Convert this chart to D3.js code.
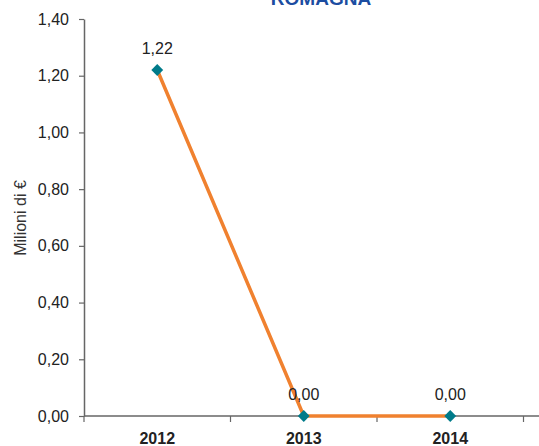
<!DOCTYPE html>
<html>
<head>
<meta charset="utf-8">
<script src="https://cdn.jsdelivr.net/npm/d3@7"></script>
<style>
  body { margin: 0; background: #fff; }
  svg { display: block; font-family: "Liberation Sans", Arial, sans-serif; }
</style>
</head>
<body>
<div id="chart"></div>
<script>
// data
var years = ["2012", "2013", "2014"];
var values = [1.22, 0.00, 0.00];
var yTicks = [0, 0.2, 0.4, 0.6, 0.8, 1.0, 1.2, 1.4];
var title = "ROMAGNA";
var yLabel = "Milioni di €";

var W = 539, H = 446;
var margin = {top: 19, right: -78, bottom: 30, left: 84};
var width = W - margin.left - margin.right,
    height = H - margin.top - margin.bottom;

var fmt = function(v) { return d3.format(".2f")(v).replace(".", ","); };

var svg = d3.select("#chart")
  .append("svg")
  .attr("width", W)
  .attr("height", H);

// title (cut off at top like the original)
svg.append("text")
  .attr("x", 321)
  .attr("y", 5)
  .attr("text-anchor", "middle")
  .style("font-size", "19px")
  .style("font-weight", "bold")
  .attr("fill", "#1c4da1")
  .text(title);

var g = svg.append("g")
  .attr("transform", "translate(" + margin.left + "," + margin.top + ")");

// x scale: bands 146.5px wide
var x = d3.scaleBand()
  .domain(years)
  .range([0, 146.5 * 3]);

var y = d3.scaleLinear()
  .domain([0, 1.4])
  .range([height, 0]);

// Y axis
var yAxis = g.append("g")
  .call(d3.axisLeft(y).tickValues(yTicks).tickFormat(fmt).tickSize(5).tickSizeOuter(0));
yAxis.select(".domain").attr("stroke", "#666").attr("stroke-width", 1.5);
yAxis.selectAll(".tick line").attr("stroke", "#666").attr("stroke-width", 1.2);
yAxis.selectAll(".tick text")
  .attr("x", -15)
  .attr("fill", "#222")
  .style("font-size", "16px");

// X axis line across to the right edge
g.append("line")
  .attr("x1", 0).attr("x2", W - margin.left)
  .attr("y1", y(0)).attr("y2", y(0))
  .attr("stroke", "#666").attr("stroke-width", 1.5);

// category boundary ticks
var bounds = years.map(function(d) { return x(d); }).concat([x(years[years.length - 1]) + x.bandwidth()]);
g.selectAll(".btick")
  .data(bounds)
  .enter()
  .append("line")
    .attr("x1", function(d) { return d; })
    .attr("x2", function(d) { return d; })
    .attr("y1", y(0))
    .attr("y2", y(0) + 6)
    .attr("stroke", "#666")
    .attr("stroke-width", 1.2);

// year labels
g.selectAll(".year")
  .data(years)
  .enter()
  .append("text")
    .attr("x", function(d) { return x(d) + x.bandwidth() / 2; })
    .attr("y", y(0) + 28)
    .attr("text-anchor", "middle")
    .style("font-size", "16px")
    .style("font-weight", "bold")
    .attr("fill", "#222")
    .text(function(d) { return d; });

// y label
svg.append("text")
  .attr("transform", "translate(26,218) rotate(-90)")
  .attr("text-anchor", "middle")
  .style("font-size", "16px")
  .attr("fill", "#333")
  .text(yLabel);

var pts = years.map(function(d, i) { return {year: d, value: values[i]}; });

// line
g.append("path")
  .datum(pts)
  .attr("fill", "none")
  .attr("stroke", "#f0812f")
  .attr("stroke-width", 3.5)
  .attr("d", d3.line()
    .x(function(d) { return x(d.year) + x.bandwidth() / 2; })
    .y(function(d) { return y(d.value); }));

// markers
g.selectAll(".mk")
  .data(pts)
  .enter()
  .append("path")
    .attr("d", d3.symbol().type(d3.symbolDiamond2).size(90))
    .attr("transform", function(d) {
      return "translate(" + (x(d.year) + x.bandwidth() / 2) + "," + y(d.value) + ")";
    })
    .attr("fill", "#007b8a");

// data labels
g.selectAll(".lbl")
  .data(pts)
  .enter()
  .append("text")
    .attr("x", function(d) { return x(d.year) + x.bandwidth() / 2; })
    .attr("y", function(d) { return y(d.value) - 16; })
    .attr("text-anchor", "middle")
    .style("font-size", "16px")
    .attr("fill", "#222")
    .text(function(d) { return fmt(d.value); });
</script>
</body>
</html>
